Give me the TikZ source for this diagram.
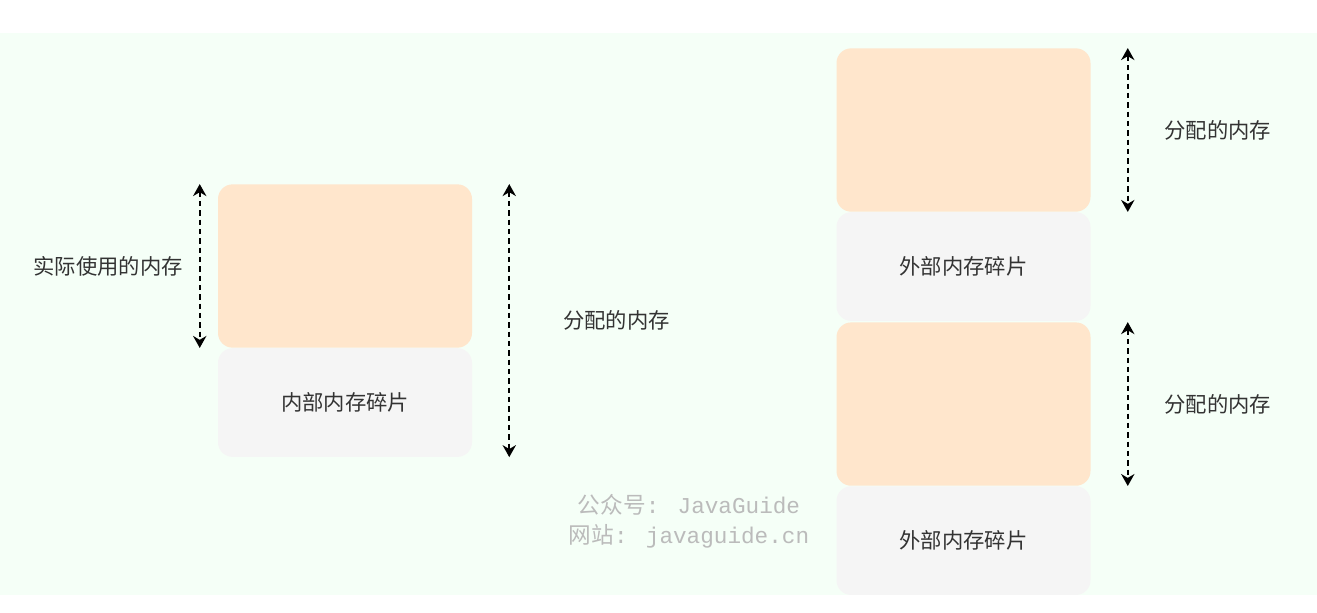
\documentclass[tikz,border=0pt]{standalone}
\usepackage{fontspec}
\usepackage{tikz}
\usetikzlibrary{arrows.meta, positioning}
\newfontfamily\cjk{Noto Sans CJK SC}
\newfontfamily\wmmono{Liberation Mono}
\definecolor{memorange}{HTML}{FFE6CC}
\definecolor{memgray}{HTML}{F5F5F5}
\definecolor{memback}{HTML}{F5FFF7}
\definecolor{memtext}{HTML}{333333}
\definecolor{memmark}{HTML}{BBBBBB}

\begin{document}
\begin{tikzpicture}[
    x=0.75pt, y=-0.75pt,
    used/.style={rectangle, rounded corners=11pt, fill=memorange, minimum width=190.5pt, minimum height=122.5pt},
    frag/.style={rectangle, rounded corners=11pt, fill=memgray, text=memtext, font=\cjk\fontsize{16}{19}\selectfont, minimum width=190.5pt, minimum height=81.5pt},
    memlabel/.style={inner sep=0pt, text=memtext, font=\cjk\fontsize{16}{19}\selectfont},
    watermark/.style={inner sep=0pt, text=memmark, align=center, font=\wmmono\fontsize{17}{22.5}\selectfont},
    arrow/.style={{Stealth[length=9pt,width=10pt]}-{Stealth[length=9pt,width=10pt]}, line width=1.4pt, dash pattern=on 4pt off 3pt}
]

% Background
\useasboundingbox (0,0) rectangle (1317,612);
\fill[memback] (0,33) rectangle (1317,595);

% Nodes
\node[used] (inuse) at (345,266) {};
\node[frag, below=0pt of inuse] (infrag) {内部内存碎片};

\node[used] (alloc1) at (963.5,130) {};
\node[frag, below=0pt of alloc1] (exfrag1) {外部内存碎片};
\node[used, below=0.75pt of exfrag1] (alloc2) {};
\node[frag, below=0pt of alloc2] (exfrag2) {外部内存碎片};

\path (inuse.north east) -- (infrag.south east) coordinate[pos=0.5] (allocmid);

\node[memlabel, left=26pt of inuse] (usedtxt) {实际使用的内存};
\node[memlabel, right=68pt of allocmid] (alloctxt) {分配的内存};
\node[memlabel, right=55pt of alloc1] (alloctxt1) {分配的内存};
\node[memlabel, right=55pt of alloc2] (alloctxt2) {分配的内存};

\node[watermark] (wm) at (689,521) {{\cjk 公众号}: JavaGuide\\{\cjk 网站}: javaguide.cn};

% Connections
\draw[arrow] ([xshift=-13.5pt]inuse.north west) -- ([xshift=-13.5pt]inuse.south west);
\draw[arrow] ([xshift=27.75pt]inuse.north east) -- ([xshift=27.75pt]infrag.south east);

\draw[arrow] ([xshift=27.75pt]alloc1.north east) -- ([xshift=27.75pt]alloc1.south east);
\draw[arrow] ([xshift=27.75pt]alloc2.north east) -- ([xshift=27.75pt]alloc2.south east);

\end{tikzpicture}
\end{document}
